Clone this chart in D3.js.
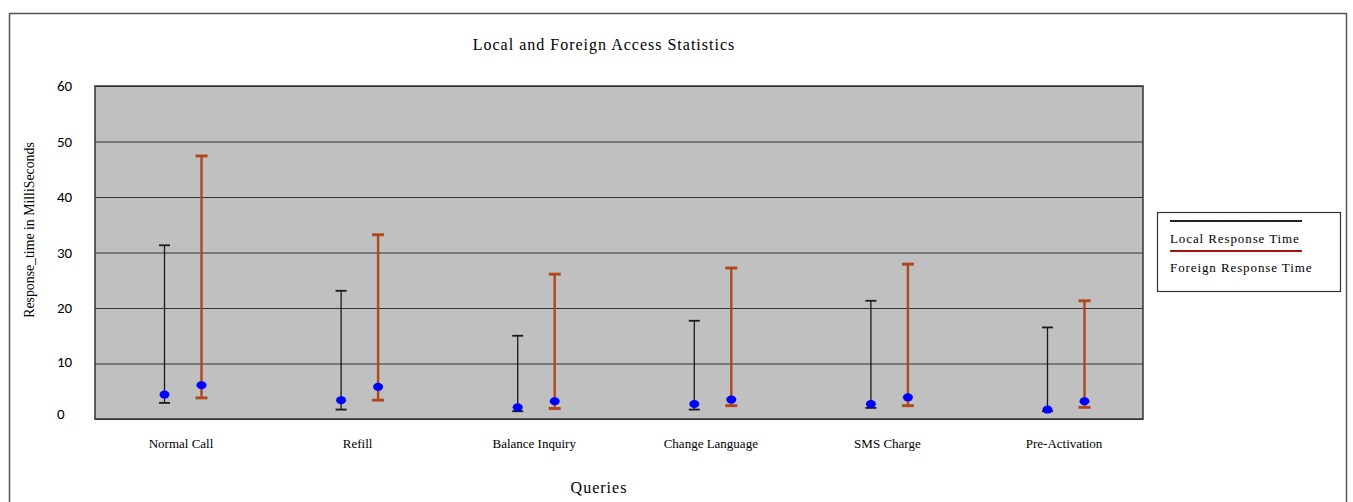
<!DOCTYPE html>
<html>
<head>
<meta charset="utf-8">
<script src="https://cdn.jsdelivr.net/npm/d3@7"></script>
<style>
  html, body { margin: 0; padding: 0; background: #fff; }
  svg { display: block; }
</style>
</head>
<body>
<svg id="chart" width="1353" height="502"></svg>
<script>
// Query types measured
const categories = ["Normal Call", "Refill", "Balance Inquiry", "Change Language", "SMS Charge", "Pre-Activation"];

// Local response time (ms): minimum, mean, maximum
const localMin  = [2.9, 1.7, 1.4, 1.7, 2.0, 1.4];
const localMean = [4.4, 3.4, 2.1, 2.7, 2.7, 1.7];
const localMax  = [31.3, 23.1, 15.0, 17.7, 21.3, 16.5];

// Foreign response time (ms): minimum, mean, maximum
const foreignMin  = [3.8, 3.4, 1.9, 2.4, 2.4, 2.1];
const foreignMean = [6.1, 5.8, 3.2, 3.5, 3.9, 3.2];
const foreignMax  = [47.4, 33.2, 26.1, 27.2, 27.9, 21.3];

const yTicks = [0, 10, 20, 30, 40, 50, 60];

const svg = d3.select("#chart");
const serif = "'Liberation Serif', 'Times New Roman', serif";
const sans = "Carlito, 'Liberation Sans', 'DejaVu Sans', sans-serif";

// outer frame
svg.append("rect")
  .attr("x", 9.5).attr("y", 13.5).attr("width", 1337).attr("height", 500)
  .attr("fill", "#fff").attr("stroke", "#555").attr("stroke-width", 1.5);

const plot = { left: 95, right: 1143, top: 86, bottom: 419 };

const y = d3.scaleLinear().domain([0, 60]).range([plot.bottom, plot.top]);
const x = d3.scalePoint().domain(categories).range([183, 1066]);
const offset = 18.5;

// plot background
svg.append("rect")
  .attr("x", plot.left).attr("y", plot.top)
  .attr("width", plot.right - plot.left).attr("height", plot.bottom - plot.top)
  .attr("fill", "#c0c0c0");

// horizontal gridlines
svg.append("g")
  .attr("transform", `translate(${plot.left},0)`)
  .call(d3.axisLeft(y).tickValues(yTicks).tickSize(-(plot.right - plot.left)).tickFormat(""))
  .call(g => g.select(".domain").remove())
  .call(g => g.selectAll(".tick line").attr("stroke", "#333").attr("stroke-width", 1.2));

// plot border
svg.append("rect")
  .attr("x", plot.left).attr("y", plot.top)
  .attr("width", plot.right - plot.left).attr("height", plot.bottom - plot.top)
  .attr("fill", "none").attr("stroke", "#333").attr("stroke-width", 1.5);

// y tick labels
svg.append("g").selectAll("text").data(yTicks).join("text")
  .attr("x", 57).attr("y", d => y(d) - (d === 0 ? 5 : d === 10 ? 2 : 0))
  .attr("dy", "0.35em")
  .attr("font-family", sans).attr("font-size", 15).attr("fill", "#000")
  .text(d => d);

// x category labels
svg.append("g").selectAll("text").data(categories).join("text")
  .attr("x", d => x(d) - 2).attr("y", 448)
  .attr("text-anchor", "middle")
  .attr("font-family", serif).attr("font-size", 13).attr("fill", "#000")
  .text(d => d);

function drawSeries(minV, meanV, maxV, dx, color, lw, cap) {
  const g = svg.append("g");
  categories.forEach((c, i) => {
    const cx = x(c) + dx;
    g.append("line").attr("x1", cx).attr("x2", cx)
      .attr("y1", y(minV[i])).attr("y2", y(maxV[i]))
      .attr("stroke", color).attr("stroke-width", lw);
    [minV[i], maxV[i]].forEach(v => {
      g.append("line").attr("x1", cx - cap).attr("x2", cx + cap)
        .attr("y1", y(v)).attr("y2", y(v))
        .attr("stroke", color).attr("stroke-width", lw + 0.5);
    });
  });
  g.selectAll("ellipse").data(meanV).join("ellipse")
    .attr("cx", (d, i) => x(categories[i]) + dx)
    .attr("cy", d => y(d))
    .attr("rx", 5).attr("ry", 4)
    .attr("fill", "#0000ff");
}

drawSeries(localMin, localMean, localMax, -offset, "#1a1a1a", 1.3, 5.5);
drawSeries(foreignMin, foreignMean, foreignMax, offset, "#b0461c", 2.4, 6);

// title
svg.append("text")
  .attr("x", 604).attr("y", 50).attr("text-anchor", "middle")
  .attr("font-family", serif).attr("font-size", 16).attr("letter-spacing", 1).attr("fill", "#000")
  .text("Local and Foreign Access Statistics");

// axis titles
svg.append("text")
  .attr("transform", "translate(34,230) rotate(-90)")
  .attr("text-anchor", "middle")
  .attr("font-family", serif).attr("font-size", 13.8).attr("fill", "#000")
  .text("Response_time in MilliSeconds");

svg.append("text")
  .attr("x", 599).attr("y", 493).attr("text-anchor", "middle")
  .attr("font-family", serif).attr("font-size", 16).attr("letter-spacing", 1).attr("fill", "#000")
  .text("Queries");

// legend
const legend = svg.append("g");
legend.append("rect")
  .attr("x", 1157.5).attr("y", 212.5).attr("width", 183).attr("height", 79)
  .attr("fill", "#fff").attr("stroke", "#333").attr("stroke-width", 1.2);
const legendItems = [
  { label: "Local Response Time", color: "#222", ly: 221, ty: 243 },
  { label: "Foreign Response Time", color: "#a01414", ly: 251, ty: 272 }
];
legendItems.forEach(d => {
  legend.append("line").attr("x1", 1170).attr("x2", 1302)
    .attr("y1", d.ly).attr("y2", d.ly)
    .attr("stroke", d.color).attr("stroke-width", 2);
  legend.append("text").attr("x", 1170).attr("y", d.ty)
    .attr("font-family", serif).attr("font-size", 13).attr("letter-spacing", 0.9).attr("fill", "#000")
    .text(d.label);
});
</script>
</body>
</html>
